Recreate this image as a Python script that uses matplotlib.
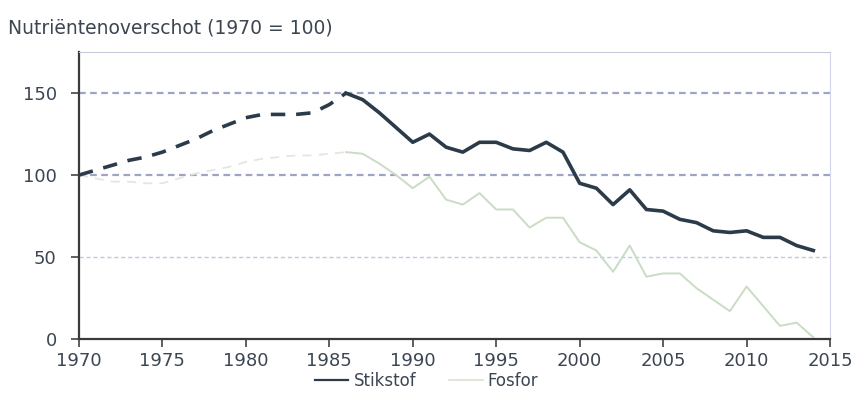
import numpy as np
import matplotlib.pyplot as plt
from matplotlib.lines import Line2D

# Data (index, 1970 = 100)
years = list(range(1970, 2015))
stikstof = [100, 103, 106, 109, 111, 114, 118, 122, 127, 131,
            135, 137, 137, 137, 138, 143, 150, 146, 138, 129,
            120, 125, 117, 114, 120, 120, 116, 115, 120, 114,
            95, 92, 82, 91, 79, 78, 73, 71, 66, 65,
            66, 62, 62, 57, 54]
fosfor = [100, 98, 96, 96, 95, 95, 98, 101, 103, 105,
          108, 110, 111, 112, 112, 113, 114, 113, 107, 100,
          92, 99, 85, 82, 89, 79, 79, 68, 74, 74,
          59, 54, 41, 57, 38, 40, 40, 31, 24, 17,
          32, 20, 8, 10, 1]
estimate_until = 1986  # dashed part (estimates)

title = "Nutriëntenoverschot (1970 = 100)"
xticks = list(range(1970, 2016, 5))
yticks = [0, 50, 100, 150]

dark = "#2c3b49"
light = "#cadcc5"
txt = "#3c4652"

fig = plt.figure(figsize=(8.62, 4.01), dpi=100)
ax = fig.add_axes([0.0916, 0.1546, 0.8713, 0.7154])

# grid lines
for y, c, lw in [(50, "#c3c7e3", 1.0), (100, "#9ea4c4", 1.6), (150, "#9ea4c4", 1.6)]:
    ax.axhline(y, color=c, lw=lw, ls=(0, (3, 2)), zorder=1)

i = years.index(estimate_until)
ax.plot(years[:i + 1], fosfor[:i + 1], color="#e3e6e1", lw=1.3, ls=(0, (5, 4)), zorder=2)
ax.plot(years[i:], fosfor[i:], color=light, lw=1.4, zorder=2)
ax.plot(years[:i + 1], stikstof[:i + 1], color=dark, lw=2.6, ls=(0, (4, 3)), zorder=3)
ax.plot(years[i:], stikstof[i:], color=dark, lw=2.6, zorder=3)

ax.set_xlim(1970, 2015)
ax.set_ylim(0, 175)
ax.set_xticks(xticks)
ax.set_yticks(yticks)
ax.tick_params(axis="both", direction="out", length=6, width=1.2, color="#444444",
               labelsize=13, labelcolor=txt, pad=3)
ax.tick_params(axis="y", pad=10)

for s in ["left", "bottom"]:
    ax.spines[s].set_color("#3a3a3a")
    ax.spines[s].set_linewidth(1.6)
ax.spines["top"].set_color("#c5c9dd")
ax.spines["right"].set_color("#d3d6ec")

fig.text(0.009, 0.93, title, fontsize=13.5, color=txt, ha="left", va="center")

handles = [Line2D([], [], color=dark, lw=1.6), Line2D([], [], color="#d8e2d4", lw=1.2)]
fig.legend(handles, ["Stikstof", "Fosfor"], loc="center", bbox_to_anchor=(0.495, 0.05),
           ncol=2, frameon=False, fontsize=12, labelcolor=txt, handlelength=2.0,
           handletextpad=0.3, columnspacing=2.0)

fig.savefig("out.png", dpi=100)
